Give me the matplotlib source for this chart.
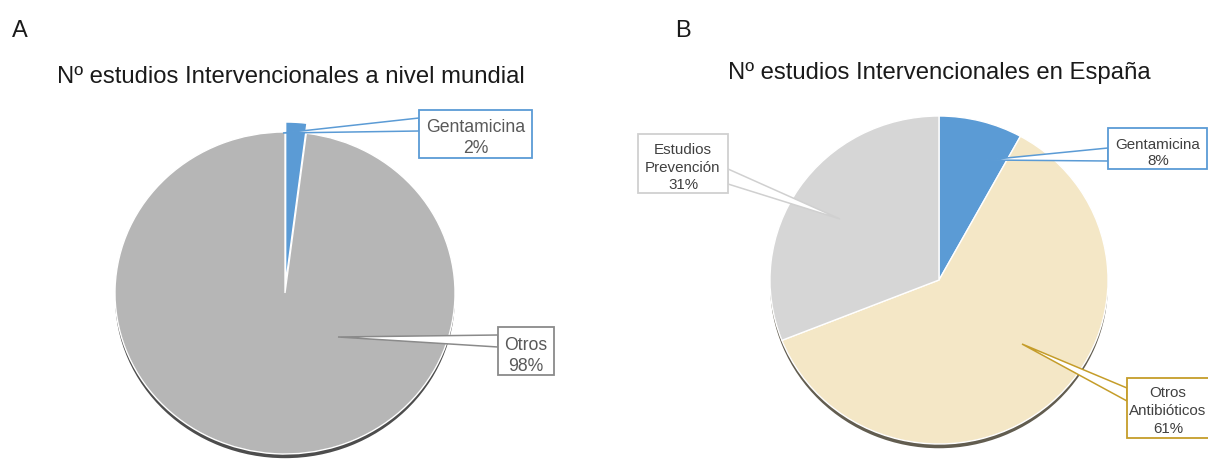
import matplotlib
matplotlib.use('Agg')
import matplotlib.pyplot as plt
from matplotlib.patches import Rectangle, Polygon

plt.rcParams['font.family'] = ['Liberation Sans', 'DejaVu Sans']

# datos
mundial_labels = ['Gentamicina', 'Otros']
mundial_vals = [2, 98]
mundial_colors = ['#5b9bd5', '#b6b6b6']

espana_labels = ['Gentamicina', 'Otros\nAntibióticos', 'Estudios\nPrevención']
espana_vals = [8, 61, 31]
espana_colors = ['#5b9bd5', '#f4e7c6', '#d6d6d6']

W, H = 1208, 460
fig = plt.figure(figsize=(W / 100, H / 100), dpi=100)


def px_axes(x0, x1, ytop, ybot):
    return fig.add_axes([x0 / W, (H - ybot) / H, (x1 - x0) / W, (ybot - ytop) / H])


def draw_pie(ax, vals, colors, explode, shadow_col, shadow_off):
    # sombra debajo del pastel
    sh, _ = ax.pie([1], colors=[shadow_col], radius=1.0, center=(0, -shadow_off))
    for w in sh:
        w.set_clip_on(False)
    wedges, _ = ax.pie(vals, colors=colors, startangle=90, counterclock=False,
                       explode=explode, radius=1.0,
                       wedgeprops=dict(edgecolor='white', linewidth=1.0))
    for w in wedges:
        w.set_clip_on(False)
    ax.set_aspect('auto')
    ax.set_xlim(-1, 1)
    ax.set_ylim(-1, 1)
    ax.axis('off')
    return wedges


ax1 = px_axes(115, 455, 133, 455)
draw_pie(ax1, mundial_vals, mundial_colors, [0.062, 0], '#4d4d4d', 0.026)

ax2 = px_axes(770, 1108, 117, 445)
draw_pie(ax2, espana_vals, espana_colors, [0, 0, 0], '#625d50', 0.026)

# capa de anotaciones en pixeles
ov = fig.add_axes([0, 0, 1, 1], zorder=5)
ov.set_xlim(0, W)
ov.set_ylim(H, 0)
ov.axis('off')


def callout(box, apex, base, edge, lines, baselines, xc, size, tcolor):
    x0, y0, x1, y1 = box
    bx = base[0]
    ov.add_patch(Polygon([(bx, base[1]), apex, (bx, base[2])], closed=True,
                         facecolor='white', edgecolor=edge, lw=1.1))
    ov.add_patch(Rectangle((x0, y0), x1 - x0, y1 - y0, facecolor='white',
                           edgecolor=edge, lw=1.3))
    for s, yb in zip(lines, baselines):
        ov.text(xc, yb, s, ha='center', va='baseline', fontsize=size, color=tcolor)


# A
ov.text(12, 37, 'A', fontsize=17, color='#1a1a1a', va='baseline')
ov.text(57, 83, 'Nº estudios Intervencionales a nivel mundial', fontsize=17.2,
        color='#1a1a1a', va='baseline')
callout((419, 111, 532, 159), (283, 134), (419, 119, 132), '#5b9bd5',
        [mundial_labels[0], f'{mundial_vals[0]}%'], [132, 153], 475.5, 12.7, '#595959')
callout((498, 328, 554, 376), (338, 338), (498, 336, 348), '#8a8a8a',
        [mundial_labels[1], f'{mundial_vals[1]}%'], [350, 371], 526, 12.7, '#595959')

# B
ov.text(675, 37, 'B', fontsize=17, color='#1a1a1a', va='baseline')
ov.text(728, 79, 'Nº estudios Intervencionales en España', fontsize=17.2,
        color='#1a1a1a', va='baseline')
callout((1108, 129, 1207, 170), (986, 161), (1108, 149, 162), '#5b9bd5',
        [espana_labels[0], f'{espana_vals[0]}%'], [149, 165], 1158, 10.9, '#404040')
callout((1127, 379, 1214, 439), (1022, 345), (1127, 389, 402), '#c59d2a',
        espana_labels[1].split('\n') + [f'{espana_vals[1]}%'], [397, 415, 433], 1168, 10.9, '#404040')
# caja de Estudios Prevención: el puntero sale del lado derecho
ov.add_patch(Polygon([(728, 170), (840, 220), (728, 185)], closed=True,
                     facecolor='white', edgecolor='#d0d0d0', lw=1.1))
ov.add_patch(Rectangle((638, 135), 90, 59, facecolor='white', edgecolor='#d0d0d0', lw=1.3))
for s, yb in zip(espana_labels[2].split('\n') + [f'{espana_vals[2]}%'], [154, 172, 189]):
    ov.text(683, yb, s, ha='center', va='baseline', fontsize=10.9, color='#404040')

fig.savefig('out.png', dpi=100)
